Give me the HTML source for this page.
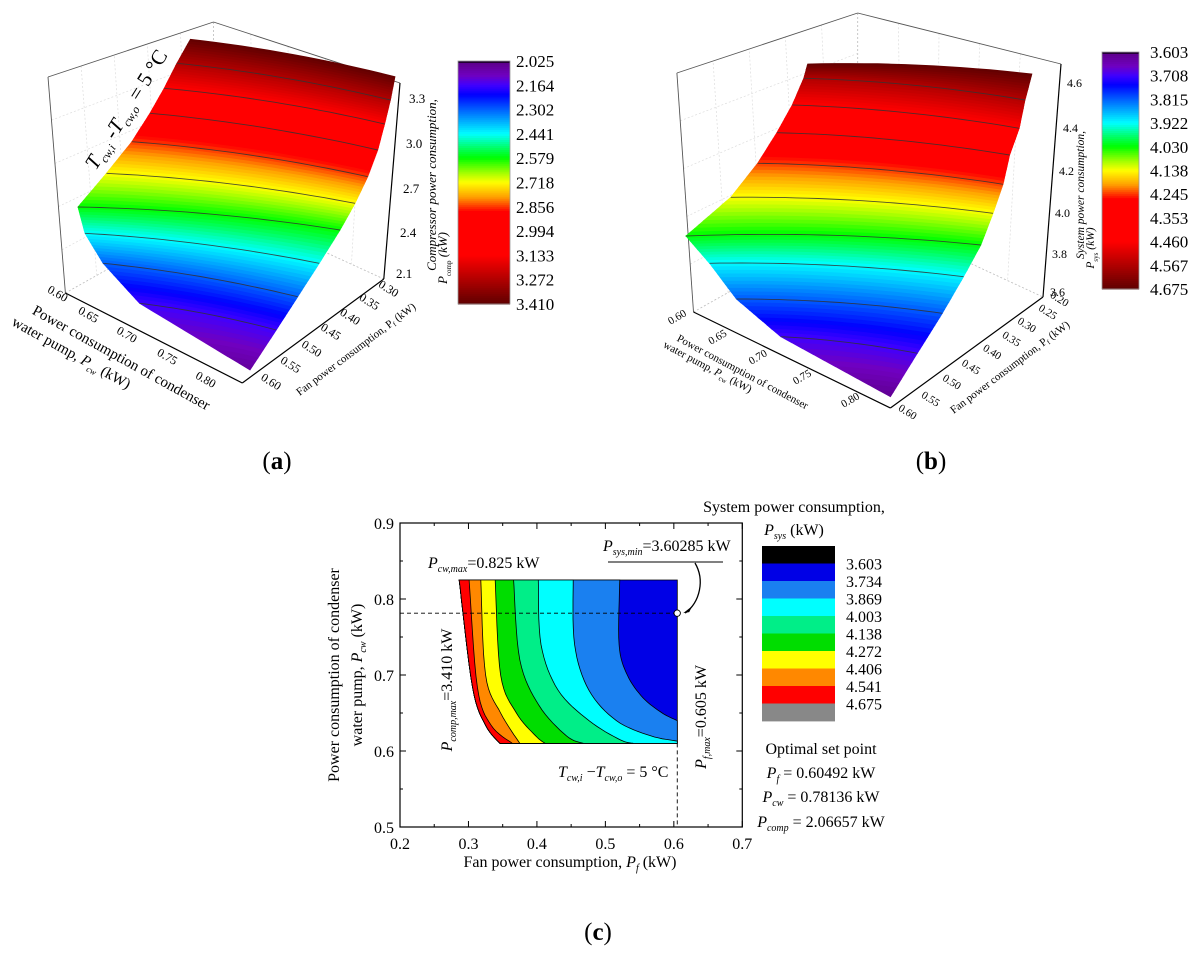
<!DOCTYPE html>
<html><head><meta charset="utf-8">
<style>
html,body{margin:0;padding:0;background:#fff;}
svg{display:block;font-family:"Liberation Serif",serif;}
</style></head>
<body>
<svg id="root" width="1200" height="953" viewBox="0 0 1200 953" xmlns="http://www.w3.org/2000/svg">
<g id="pa"></g>
<g id="pb"></g>
<g id="pc"></g>
<text x="277" y="469" font-size="25" text-anchor="middle">(<tspan font-weight="bold">a</tspan>)</text>
<text x="931" y="469" font-size="25" text-anchor="middle">(<tspan font-weight="bold">b</tspan>)</text>
<text x="598" y="940" font-size="25" text-anchor="middle">(<tspan font-weight="bold">c</tspan>)</text>
</svg>
<script>
// ---------- data ----------
const colorbarTicksA = [2.025,2.164,2.302,2.441,2.579,2.718,2.856,2.994,3.133,3.272,3.410];
const contourLevelsA = [3.272,3.133,2.994,2.856,2.718,2.579,2.441,2.302,2.164];
const surfaceTopA = 3.41, surfaceBottomA = 2.06;
const zTicksA = ["3.3","3.0","2.7","2.4","2.1"];
const pcwTicks = ["0.60","0.65","0.70","0.75","0.80"];
const fanTicksA = ["0.60","0.55","0.50","0.45","0.40","0.35","0.30"];

const colorbarTicksB = [3.603,3.708,3.815,3.922,4.030,4.138,4.245,4.353,4.460,4.567,4.675];
const contourLevelsB = [4.567,4.460,4.353,4.245,4.138,4.030,3.922,3.815,3.708];
const surfaceTopB = 4.675, surfaceBottomB = 3.62;
const zTicksB = ["4.6","4.4","4.2","4.0","3.8","3.6"];
const fanTicksB = ["0.60","0.55","0.50","0.45","0.40","0.35","0.30","0.25","0.20"];

// panel c: contour boundaries [Pf, Pcw]
const leftEdgeC = [[0.2865,0.825],[0.306,0.684],[0.325,0.634],[0.346,0.610]];
const boundariesC = [
 [[0.301,0.825],[0.313,0.684],[0.333,0.634],[0.364,0.610]],
 [[0.318,0.825],[0.325,0.70],[0.347,0.65],[0.375,0.610]],
 [[0.339,0.825],[0.347,0.70],[0.370,0.65],[0.398,0.62],[0.412,0.610]],
 [[0.366,0.825],[0.375,0.72],[0.403,0.66],[0.443,0.62],[0.468,0.610]],
 [[0.402,0.825],[0.406,0.74],[0.431,0.68],[0.476,0.64],[0.521,0.615],[0.541,0.610]],
 [[0.453,0.825],[0.455,0.74],[0.476,0.68],[0.516,0.64],[0.566,0.62],[0.605,0.613]],
 [[0.521,0.825],[0.520,0.74],[0.532,0.70],[0.555,0.67],[0.583,0.65],[0.605,0.640]]
];
const bandColorsC = ["#ff0000","#ff8800","#ffff00","#00dd00","#00ee88","#00ffff","#1a80f0","#0000e6"];
const pfMax = 0.605, pcwMin = 0.610, pcwMax = 0.825;
const optimumC = [0.60492, 0.78136];
const xTicksC = [0.2,0.3,0.4,0.5,0.6,0.7];
const yTicksC = [0.5,0.6,0.7,0.8,0.9];
const legendLabelsC = ["3.603","3.734","3.869","4.003","4.138","4.272","4.406","4.541","4.675"];
const legendColorsC = ["#000000","#0000e6","#1a80f0","#00ffff","#00ee88","#00dd00","#ffff00","#ff8800","#ff0000","#888888"];

// ---------- helpers ----------
const NS="http://www.w3.org/2000/svg";
function mk(parent,tag,attrs,text){const e=document.createElementNS(NS,tag);for(const k in attrs)e.setAttribute(k,attrs[k]);if(text!==undefined)e.textContent=text;parent.appendChild(e);return e;}
const stops=[[0,"#000000"],[0.012,"#600090"],[0.06,"#7000c0"],[0.10,"#4000ff"],[0.14,"#0000ff"],[0.22,"#0080ff"],[0.30,"#00ffff"],[0.36,"#00ff60"],[0.40,"#00ff00"],[0.46,"#a0ff00"],[0.50,"#ffff00"],[0.56,"#ffa000"],[0.62,"#ff0000"],[0.80,"#ff0000"],[0.90,"#b00000"],[1.0,"#600000"]];
function hx(c){return [parseInt(c.substr(1,2),16),parseInt(c.substr(3,2),16),parseInt(c.substr(5,2),16)];}
function cmap(f){f=Math.max(0,Math.min(1,f));for(let i=1;i<stops.length;i++){if(f<=stops[i][0]){const a=stops[i-1],b=stops[i];const t=(f-a[0])/(b[0]-a[0]||1);const ca=hx(a[1]),cb=hx(b[1]);return "rgb("+ca.map((v,k)=>Math.round(v+(cb[k]-v)*t)).join(",")+")";}}return stops[stops.length-1][1];}
function lerp(a,b,t){return [a[0]+(b[0]-a[0])*t,a[1]+(b[1]-a[1])*t];}
function curvePts(L,R,bow,n){const m=[(L[0]+R[0])/2,(L[1]+R[1])/2];const len=Math.hypot(R[0]-L[0],R[1]-L[1]);const C=[m[0],m[1]-bow*len];const out=[];for(let j=0;j<=n;j++){const u=j/n;out.push([(1-u)*(1-u)*L[0]+2*u*(1-u)*C[0]+u*u*R[0],(1-u)*(1-u)*L[1]+2*u*(1-u)*C[1]+u*u*R[1]]);}return out;}
// Catmull-Rom densify
function smooth(pts,n){if(pts.length<3)return pts.slice();const out=[];for(let i=0;i<pts.length-1;i++){const p0=pts[Math.max(0,i-1)],p1=pts[i],p2=pts[i+1],p3=pts[Math.min(pts.length-1,i+2)];for(let j=0;j<n;j++){const t=j/n,t2=t*t,t3=t2*t;out.push([0,1].map(k=>0.5*((2*p1[k])+(-p0[k]+p2[k])*t+(2*p0[k]-5*p1[k]+4*p2[k]-p3[k])*t2+(-p0[k]+3*p1[k]-3*p2[k]+p3[k])*t3)));}}out.push(pts[pts.length-1]);return out;}

function drawSurface(g,Lk,Rk,zTop,zBot,levels,zmin,zmax,bow){
  const zs=[zTop].concat(levels).concat([zBot]);
  const sg=mk(g,"g",{});
  
  
  const sub=10;
  for(let k=0;k<Lk.length-1;k++){
    for(let s=0;s<sub;s++){
      const t0=s/sub,t1=(s+1)/sub;
      const a=curvePts(lerp(Lk[k],Lk[k+1],t0),lerp(Rk[k],Rk[k+1],t0),bow,16);
      const b=curvePts(lerp(Lk[k],Lk[k+1],t1),lerp(Rk[k],Rk[k+1],t1),bow,16).reverse();
      const z=zs[k]+(zs[k+1]-zs[k])*((t0+t1)/2);
      const col=cmap((z-zmin)/(zmax-zmin));
      const p=mk(sg,"polygon",{points:a.concat(b).map(q=>q[0].toFixed(1)+","+q[1].toFixed(1)).join(" "),fill:col,stroke:col,"stroke-width":"0.8"});
      
      
    }
  }
  levels.forEach(lv=>{
    for(let k=0;k<zs.length-1;k++){
      const lo=Math.min(zs[k],zs[k+1]),hi=Math.max(zs[k],zs[k+1]);
      if(lv>=lo&&lv<=hi&&zs[k]!==zs[k+1]){
        const t=(lv-zs[k])/(zs[k+1]-zs[k]);
        const pts=curvePts(lerp(Lk[k],Lk[k+1],t),lerp(Rk[k],Rk[k+1],t),bow,24);
        const pl=mk(g,"polyline",{points:pts.map(q=>q[0].toFixed(1)+","+q[1].toFixed(1)).join(" "),fill:"none",stroke:"#333","stroke-width":"0.9","stroke-opacity":"0.85"});
        
        
        break;
      }
    }
  });
}
function line(g,x1,y1,x2,y2,st,w,dash){const l=mk(g,"line",{x1,y1,x2,y2,stroke:st,"stroke-width":w||1});if(dash)l.setAttribute("stroke-dasharray",dash);return l;}
function rtext(g,x,y,ang,size,txt,anchor){const t=mk(g,"text",{x:0,y:0,"font-size":size,"text-anchor":anchor||"middle",transform:`translate(${x},${y}) rotate(${ang})`},txt);return t;}
function colorbar(g,x,y,w,h,ticks,lx){
  const N=120;
  for(let i=0;i<N;i++){const f=(i+0.5)/N;const r=mk(g,"rect",{x,y:y+h*i/N,width:w,height:h/N+0.6,fill:cmap(f)});}
  mk(g,"rect",{x,y,width:w,height:h,fill:"none",stroke:"#999","stroke-width":"0.8"});
  ticks.forEach((v,i)=>{const t=mk(g,"text",{x:lx,y:y+h*i/(ticks.length-1)+6,"font-size":17},v.toFixed(3));});
}
function box(g,P){
  const gr="#bbb";
  line(g,P.back[0],P.back[1],P.back[0],P.backBot[1],gr,0.8,"2,2");
  line(g,P.lb[0],P.lb[1],P.backBot[0],P.backBot[1],gr,0.8,"2,2");
  line(g,P.backBot[0],P.backBot[1],P.rb[0],P.rb[1],gr,0.8,"2,2");
  for(let i=1;i<5;i++){const f=i/5;
    line(g,P.lt[0]+(P.lb[0]-P.lt[0])*f,P.lt[1]+(P.lb[1]-P.lt[1])*f,P.back[0],P.back[1]+(P.backBot[1]-P.back[1])*f,"#ddd",0.7,"2,2");
    line(g,P.lb[0]+(P.backBot[0]-P.lb[0])*f,P.lb[1]+(P.backBot[1]-P.lb[1])*f,P.lt[0]+(P.back[0]-P.lt[0])*f,P.lt[1]+(P.back[1]-P.lt[1])*f,"#ddd",0.7,"2,2");
    line(g,P.back[0]+(P.rt[0]-P.back[0])*f,P.back[1]+(P.rt[1]-P.back[1])*f,P.backBot[0]+(P.rb[0]-P.backBot[0])*f,P.backBot[1]+(P.rb[1]-P.backBot[1])*f,"#ddd",0.7,"2,2");
  }
  line(g,P.lt[0],P.lt[1],P.back[0],P.back[1],"#555",0.9);
  line(g,P.back[0],P.back[1],P.rt[0],P.rt[1],"#555",0.9);
  line(g,P.lt[0],P.lt[1],P.lb[0],P.lb[1],"#555",0.9);
}
function axesFront(g,P){
  line(g,P.lb[0],P.lb[1],P.fb[0],P.fb[1],"#000",1.2);
  line(g,P.fb[0],P.fb[1],P.rb[0],P.rb[1],"#000",1.2);
  line(g,P.rb[0],P.rb[1],P.rt[0],P.rt[1],"#000",1.2);
}

// ---------- panel a ----------
(function(){
  const g=document.getElementById("pa");
  const P={back:[213.5,22],backBot:[222,205],lt:[48,77],lb:[65.4,293],fb:[242.3,383],rb:[383.8,279],rt:[400,83]};
  box(g,P);
  const L=[[190.4,39.3],[176.9,63.3],[164.2,88.3],[150,113.3],[131.9,141.7],[106.5,173.3],[78,207],[85,233.3],[103.1,263.3],[139.6,303.3],[250,370]];
  const R=[[395,76.7],[390.4,100],[384.6,124],[377.7,150],[367.7,176.7],[355,203.3],[340,230],[319.2,263.3],[297.7,296.7],[276.2,330],[250,370]];
  drawSurface(g,L,R,surfaceTopA,surfaceBottomA,contourLevelsA,2.025,3.41,0.035);
  axesFront(g,P);
  const zp=[[409,98],[406,143],[403,188],[400,232],[396,273]];
  zTicksA.forEach((t,i)=>{const e=mk(g,"text",{x:zp[i][0],y:zp[i][1]+5,"font-size":13},t);});
  const pp=[[55.8,297],[86.5,318],[125,338],[165.4,360],[203.8,383]];
  pcwTicks.forEach((t,i)=>{const e=rtext(g,pp[i][0],pp[i][1],30,12,t);});
  const fp=[[269,385],[288.5,368],[309.6,352],[328.8,335],[348,320],[367.3,305],[386.5,292]];
  fanTicksA.forEach((t,i)=>{const e=rtext(g,fp[i][0],fp[i][1],32,12,t);});
  let e=rtext(g,119,362,29,15,"Power consumption of condenser");
  e=rtext(g,69,357,29,15,"");e.innerHTML='water pump,  <tspan font-style="italic">P</tspan><tspan font-size="9" font-style="italic" dy="4">cw</tspan><tspan dy="-4"> (kW)</tspan>';
  e=rtext(g,358,352,-37,11,"");e.innerHTML='Fan power consumption, P<tspan font-size="7" dy="2">f</tspan><tspan dy="-2"> (kW)</tspan>';
  e=rtext(g,436,185,-90,13,"Compressor power consumption,");e.setAttribute('font-style','italic');
  e=rtext(g,447,258,-90,13,"");e.innerHTML='<tspan font-style="italic">P</tspan><tspan font-size="7" dy="4">comp</tspan><tspan dy="-4" font-style="italic">  (kW)</tspan>';
  e=rtext(g,132,113,-58,21,"");e.innerHTML='<tspan font-style="italic">T</tspan><tspan font-size="12" dy="5" font-style="italic">cw,i</tspan><tspan dy="-5"> -</tspan><tspan font-style="italic">T</tspan><tspan font-size="12" dy="5" font-style="italic">cw,o</tspan><tspan dy="-5"> = 5 °C</tspan>';
  const cb=mk(g,"g",{});
  colorbar(cb,458,61,52,243,colorbarTicksA,516);
})();

// ---------- panel b ----------
(function(){
  const g=document.getElementById("pb");
  const P={back:[857.7,13],backBot:[866,215],lt:[676.9,73],lb:[693.5,312],fb:[890.4,408],rb:[1043,297],rt:[1061,64]};
  box(g,P);
  const L=[[807.7,64],[803.8,78.3],[792.3,105],[776.9,132.7],[757.7,163.3],[730.8,197.3],[686,236],[709.6,263.3],[736.5,299],[780.8,336.7],[890.4,396.7]];
  const R=[[1031.9,74],[1025,100],[1019.2,128.3],[1009.6,155],[1003,184.3],[993,213.3],[980.8,245],[963.5,276.7],[942.3,313.3],[917.3,353.3],[890.4,396.7]];
  drawSurface(g,L,R,surfaceTopB,surfaceBottomB,contourLevelsB,3.603,4.675,0.035);
  axesFront(g,P);
  const zp=[[1067,82],[1063,127],[1059,170],[1055,212],[1052,253],[1050,291]];
  zTicksB.forEach((t,i)=>{const e=mk(g,"text",{x:zp[i][0],y:zp[i][1]+5,"font-size":12},t);});
  const pp=[[678.8,320],[719.2,340],[759.6,360],[803.8,380],[851.9,403]];
  pcwTicks.forEach((t,i)=>{const e=rtext(g,pp[i][0],pp[i][1],-30,11,t);});
  const fp=[[905.8,415],[928.8,402],[950,385],[969.2,370],[990.4,355],[1009.6,342],[1025,328],[1046,315],[1057.7,302]];
  fanTicksB.forEach((t,i)=>{const e=rtext(g,fp[i][0],fp[i][1],32,11,t);});
  let e=rtext(g,741,375,28,11,"Power consumption of condenser");
  e=rtext(g,706,370,28,11,"");e.innerHTML='water pump, <tspan font-style="italic">P</tspan><tspan font-size="7" dy="3">cw</tspan><tspan dy="-3"> (kW)</tspan>';
  e=rtext(g,1012,370,-37,11,"");e.innerHTML='Fan power consumption, P<tspan font-size="7" dy="2">f</tspan><tspan dy="-2"> (kW)</tspan>';
  e=rtext(g,1084,195,-90,11.5,"System power consumption,");e.setAttribute('font-style','italic');
  e=rtext(g,1094,248,-90,11.5,"");e.innerHTML='<tspan font-style="italic">P</tspan><tspan font-size="7" dy="4">sys</tspan><tspan dy="-4" font-style="italic">  (kW)</tspan>';
  const cb=mk(g,"g",{});
  colorbar(cb,1102,52,37,237,colorbarTicksB,1150);
})();

// ---------- panel c ----------
(function(){
  const g=document.getElementById("pc");
  const X0=400,X1=742.3,Y0=827,Y1=523;
  const xs=v=>X0+(v-0.2)/(0.5)*(X1-X0);
  const ys=v=>Y0-(v-0.5)/(0.4)*(Y0-Y1);
  const pt=p=>xs(p[0]).toFixed(1)+","+ys(p[1]).toFixed(1);
  const leftS=smooth(leftEdgeC,8);
  const base=leftS.concat([[pfMax,pcwMin],[pfMax,pcwMax]]);
  let p=mk(g,"polygon",{points:base.map(pt).join(" "),fill:bandColorsC[bandColorsC.length-1],stroke:"#000","stroke-width":"0.8"});
  
  for(let k=boundariesC.length-1;k>=0;k--){
    const b=boundariesC[k];
    const last=b[b.length-1];
    let poly=smooth(b,8);
    if(last[1]>pcwMin+1e-6) poly.push([pfMax,pcwMin]);
    poly=poly.concat(leftS.slice().reverse());
    p=mk(g,"polygon",{points:poly.map(pt).join(" "),fill:bandColorsC[k],stroke:"#000","stroke-width":"0.8"});
    
  }
  const fr=mk(g,"rect",{x:X0,y:Y1,width:X1-X0,height:Y0-Y1,fill:"none",stroke:"#000","stroke-width":"1.2"});
  
  for(let v=0.2;v<=0.7001;v+=0.05){const x=xs(v);const L=(Math.round(v*100)%10===0)?6:3;line(g,x,Y0,x,Y0-L,"#000",1);line(g,x,Y1,x,Y1+L,"#000",1);}
  for(let v=0.5;v<=0.9001;v+=0.05){const y=ys(v);const L=(Math.round(v*100)%10===0)?6:3;line(g,X0,y,X0+L,y,"#000",1);line(g,X1,y,X1-L,y,"#000",1);}
  xTicksC.forEach(v=>{const t=mk(g,"text",{x:xs(v),y:Y0+22,"font-size":16,"text-anchor":"middle"},v.toFixed(1));});
  yTicksC.forEach(v=>{const t=mk(g,"text",{x:X0-6,y:ys(v)+6,"font-size":16,"text-anchor":"end"},v.toFixed(1));});
  let l=line(g,X0,ys(optimumC[1]),xs(optimumC[0]),ys(optimumC[1]),"#000",0.9,"4,3");
  l=line(g,xs(pfMax),ys(pcwMin),xs(pfMax),Y0,"#000",0.9,"4,3");
  const c=mk(g,"circle",{cx:xs(optimumC[0]),cy:ys(optimumC[1]),r:3.2,fill:"#fff",stroke:"#000","stroke-width":"0.9"});
  
  let t=mk(g,"text",{x:428,y:568,"font-size":16});t.innerHTML='<tspan font-style="italic">P</tspan><tspan font-size="10" font-style="italic" dy="4">cw,max</tspan><tspan dy="-4">=0.825 kW</tspan>';
  t=mk(g,"text",{x:603,y:551,"font-size":16});t.innerHTML='<tspan font-style="italic">P</tspan><tspan font-size="10" font-style="italic" dy="4">sys,min</tspan><tspan dy="-4">=3.60285 kW</tspan>';
  line(g,608,562,723,562,"#000",1.1);
  const ar=mk(g,"path",{d:`M695,563 C705,580 700,602 ${xs(optimumC[0])+8},${ys(optimumC[1])}`,fill:"none",stroke:"#000","stroke-width":"1.3"});
  
  const ax=xs(optimumC[0])+6,ay=ys(optimumC[1]);
  mk(g,"polygon",{points:`${ax},${ay} ${ax+9},${ay-7} ${ax+6},${ay-1}`,fill:"#000"});
  t=rtext(g,452,690,-90,16,"");t.innerHTML='<tspan font-style="italic">P</tspan><tspan font-size="10" font-style="italic" dy="4">comp,max</tspan><tspan dy="-4">=3.410 kW</tspan>';
  t=rtext(g,706,717,-90,16,"");t.innerHTML='<tspan font-style="italic">P</tspan><tspan font-size="10" font-style="italic" dy="4">f,max</tspan><tspan dy="-4">=0.605 kW</tspan>';
  t=mk(g,"text",{x:558,y:777,"font-size":16});t.innerHTML='<tspan font-style="italic">T</tspan><tspan font-size="10" font-style="italic" dy="4">cw,i</tspan><tspan dy="-4"> −</tspan><tspan font-style="italic">T</tspan><tspan font-size="10" font-style="italic" dy="4">cw,o</tspan><tspan dy="-4"> = 5 °C</tspan>';
  t=mk(g,"text",{x:570,y:867,"font-size":16,"text-anchor":"middle"});t.innerHTML='Fan power consumption, <tspan font-style="italic">P</tspan><tspan font-size="10" font-style="italic" dy="4">f</tspan><tspan dy="-4"> (kW)</tspan>';
  t=rtext(g,339,675,-90,16,"Power consumption of condenser");
  t=rtext(g,362,675,-90,16,"");t.innerHTML='water pump,  <tspan font-style="italic">P</tspan><tspan font-size="10" font-style="italic" dy="4">cw</tspan><tspan dy="-4"> (kW)</tspan>';
  const lg=mk(g,"g",{});
  t=mk(lg,"text",{x:794,y:512,"font-size":16,"text-anchor":"middle"},"System power consumption,");
  t=mk(lg,"text",{x:794,y:535,"font-size":16,"text-anchor":"middle"});t.innerHTML='<tspan font-style="italic">P</tspan><tspan font-size="10" font-style="italic" dy="4">sys</tspan><tspan dy="-4"> (kW)</tspan>';
  const ly0=546,lh=17.5;
  legendColorsC.forEach((col,i)=>{const r=mk(lg,"rect",{x:762,y:ly0+i*lh,width:73,height:lh+0.4,fill:col});});
  legendLabelsC.forEach((s,i)=>{const e=mk(lg,"text",{x:846,y:ly0+(i+1)*lh+6,"font-size":16},s);});
  const op=mk(g,"g",{"font-size":16,"text-anchor":"middle"});
  mk(op,"text",{x:821,y:754},"Optimal set point");
  t=mk(op,"text",{x:821,y:778});t.innerHTML='<tspan font-style="italic">P</tspan><tspan font-size="10" font-style="italic" dy="4">f</tspan><tspan dy="-4"> = 0.60492 kW</tspan>';
  t=mk(op,"text",{x:821,y:802});t.innerHTML='<tspan font-style="italic">P</tspan><tspan font-size="10" font-style="italic" dy="4">cw</tspan><tspan dy="-4"> = 0.78136 kW</tspan>';
  t=mk(op,"text",{x:821,y:827});t.innerHTML='<tspan font-style="italic">P</tspan><tspan font-size="10" font-style="italic" dy="4">comp</tspan><tspan dy="-4"> = 2.06657 kW</tspan>';
})();
</script>
</body></html>
